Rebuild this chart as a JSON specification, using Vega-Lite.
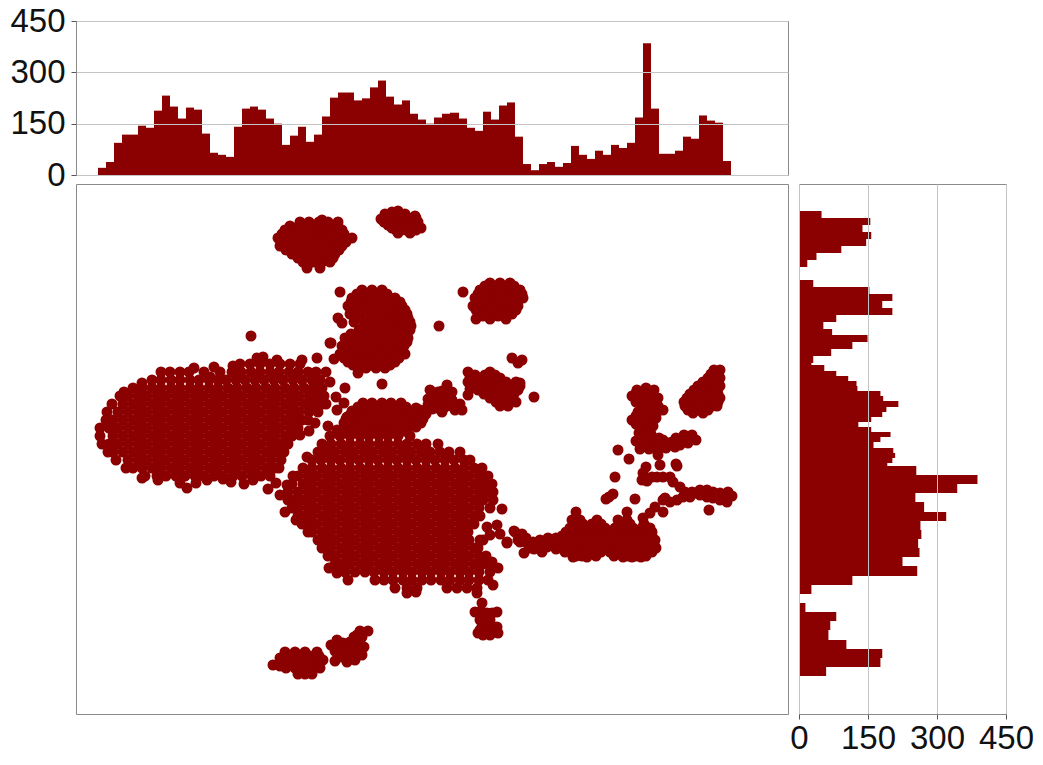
{"$schema":"https://vega.github.io/schema/vega-lite/v6.json","background":"white","padding":{"left":9,"top":4,"right":5,"bottom":5},"bounds":"flush","spacing":9,"config":{"view":{"stroke":"#8a8a8a","strokeWidth":1},"font":"Liberation Sans","axis":{"labelFont":"Liberation Sans","labelFontSize":33,"labelColor":"#111111","title":null,"domainColor":"#8a8a8a","tickColor":"#555555","tickSize":5,"gridColor":"#c4c4c4","labelOverlap":false,"labelFlush":false,"labelPadding":3}},
"datasets":{"top":[{"a":22,"b":30,"n":21},{"a":30,"b":38,"n":38},{"a":38,"b":46,"n":94},{"a":46,"b":54,"n":118},{"a":54,"b":62,"n":118},{"a":62,"b":70,"n":144},{"a":70,"b":78,"n":138},{"a":78,"b":86,"n":188},{"a":86,"b":94,"n":232},{"a":94,"b":102,"n":200},{"a":102,"b":110,"n":165},{"a":110,"b":118,"n":197},{"a":118,"b":126,"n":191},{"a":126,"b":134,"n":121},{"a":134,"b":142,"n":65},{"a":142,"b":150,"n":59},{"a":150,"b":158,"n":53},{"a":158,"b":166,"n":141},{"a":166,"b":174,"n":194},{"a":174,"b":182,"n":200},{"a":182,"b":190,"n":191},{"a":190,"b":198,"n":165},{"a":198,"b":206,"n":150},{"a":206,"b":214,"n":88},{"a":214,"b":222,"n":115},{"a":222,"b":230,"n":141},{"a":230,"b":238,"n":97},{"a":238,"b":246,"n":118},{"a":246,"b":254,"n":171},{"a":254,"b":262,"n":226},{"a":262,"b":270,"n":241},{"a":270,"b":278,"n":241},{"a":278,"b":286,"n":218},{"a":286,"b":294,"n":224},{"a":294,"b":302,"n":256},{"a":302,"b":310,"n":276},{"a":310,"b":318,"n":229},{"a":318,"b":326,"n":206},{"a":326,"b":334,"n":218},{"a":334,"b":342,"n":179},{"a":342,"b":350,"n":162},{"a":350,"b":358,"n":150},{"a":358,"b":366,"n":168},{"a":366,"b":374,"n":179},{"a":374,"b":383,"n":182},{"a":383,"b":391,"n":165},{"a":391,"b":399,"n":138},{"a":399,"b":407,"n":129},{"a":407,"b":415,"n":185},{"a":415,"b":423,"n":162},{"a":423,"b":431,"n":203},{"a":431,"b":439,"n":212},{"a":439,"b":447,"n":112},{"a":447,"b":455,"n":32},{"a":455,"b":463,"n":14},{"a":463,"b":471,"n":32},{"a":471,"b":479,"n":38},{"a":479,"b":487,"n":24},{"a":487,"b":495,"n":35},{"a":495,"b":503,"n":85},{"a":503,"b":511,"n":59},{"a":511,"b":519,"n":47},{"a":519,"b":527,"n":71},{"a":527,"b":535,"n":59},{"a":535,"b":543,"n":88},{"a":543,"b":551,"n":79},{"a":551,"b":559,"n":94},{"a":559,"b":567,"n":168},{"a":567,"b":575,"n":385},{"a":575,"b":583,"n":194},{"a":583,"b":591,"n":62},{"a":591,"b":599,"n":62},{"a":599,"b":607,"n":71},{"a":607,"b":615,"n":112},{"a":615,"b":623,"n":106},{"a":623,"b":631,"n":174},{"a":631,"b":639,"n":159},{"a":639,"b":647,"n":153},{"a":647,"b":655,"n":41}],
"side":[{"a":503,"b":496,"n":49},{"a":496,"b":489,"n":155},{"a":489,"b":482,"n":138},{"a":482,"b":475,"n":157},{"a":475,"b":468,"n":146},{"a":468,"b":461,"n":92},{"a":461,"b":454,"n":38},{"a":454,"b":447,"n":18},{"a":441,"b":434,"n":2},{"a":434,"b":427,"n":31},{"a":427,"b":420,"n":153},{"a":420,"b":413,"n":203},{"a":413,"b":406,"n":181},{"a":406,"b":399,"n":203},{"a":399,"b":392,"n":81},{"a":392,"b":385,"n":53},{"a":385,"b":379,"n":72},{"a":379,"b":372,"n":149},{"a":372,"b":365,"n":116},{"a":365,"b":358,"n":70},{"a":358,"b":351,"n":31},{"a":351,"b":349,"n":27},{"a":349,"b":343,"n":55},{"a":343,"b":338,"n":81},{"a":338,"b":333,"n":107},{"a":333,"b":328,"n":125},{"a":328,"b":323,"n":127},{"a":323,"b":318,"n":177},{"a":318,"b":313,"n":183},{"a":313,"b":307,"n":216},{"a":307,"b":302,"n":190},{"a":302,"b":297,"n":181},{"a":297,"b":292,"n":157},{"a":292,"b":287,"n":129},{"a":287,"b":282,"n":157},{"a":282,"b":277,"n":199},{"a":277,"b":272,"n":177},{"a":272,"b":266,"n":162},{"a":266,"b":261,"n":205},{"a":261,"b":256,"n":209},{"a":256,"b":251,"n":203},{"a":251,"b":248,"n":192},{"a":248,"b":239,"n":255},{"a":239,"b":230,"n":388},{"a":230,"b":221,"n":344},{"a":221,"b":212,"n":253},{"a":212,"b":202,"n":272},{"a":202,"b":193,"n":320},{"a":193,"b":184,"n":264},{"a":184,"b":175,"n":266},{"a":175,"b":166,"n":259},{"a":166,"b":157,"n":262},{"a":157,"b":148,"n":225},{"a":148,"b":138,"n":257},{"a":138,"b":129,"n":116},{"a":129,"b":120,"n":27},{"a":111,"b":102,"n":14},{"a":102,"b":93,"n":81},{"a":93,"b":84,"n":68},{"a":84,"b":74,"n":64},{"a":74,"b":65,"n":103},{"a":65,"b":56,"n":181},{"a":56,"b":47,"n":177},{"a":47,"b":38,"n":59}],
"pts":[{"x":164,"y":350},{"x":174,"y":350},{"x":184,"y":350},{"x":194,"y":350},{"x":204,"y":350},{"x":214,"y":350},{"x":224,"y":350},{"x":157,"y":348},{"x":181,"y":356},{"x":187,"y":357},{"x":201,"y":354},{"x":226,"y":354},{"x":241,"y":356},{"x":258,"y":355},{"x":254,"y":371},{"x":118,"y":346},{"x":128,"y":342},{"x":138,"y":347},{"x":144,"y":342},{"x":134,"y":337},{"x":250,"y":342},{"x":254,"y":332},{"x":260,"y":317},{"x":269,"y":326},{"x":268,"y":311},{"x":261,"y":304},{"x":271,"y":297},{"x":252,"y":288},{"x":261,"y":284},{"x":274,"y":286},{"x":282,"y":341},{"x":66,"y":331},{"x":48,"y":322},
{"x":85,"y":342},{"x":94,"y":342},{"x":104,"y":342},{"x":113,"y":342},{"x":156,"y":342},{"x":165,"y":342},{"x":175,"y":342},{"x":184,"y":342},{"x":194,"y":342},{"x":203,"y":342},{"x":213,"y":342},{"x":222,"y":342},{"x":232,"y":342},{"x":240,"y":342},
{"x":76,"y":334},{"x":85,"y":334},{"x":95,"y":334},{"x":104,"y":334},{"x":114,"y":334},{"x":123,"y":334},{"x":133,"y":334},{"x":142,"y":334},{"x":150,"y":334},{"x":160,"y":334},{"x":169,"y":334},{"x":179,"y":334},{"x":188,"y":334},{"x":198,"y":334},{"x":207,"y":334},{"x":217,"y":334},{"x":226,"y":334},{"x":236,"y":334},{"x":244,"y":334},
{"x":57,"y":326},{"x":66,"y":326},{"x":76,"y":326},{"x":85,"y":326},{"x":95,"y":326},{"x":104,"y":326},{"x":114,"y":326},{"x":123,"y":326},{"x":133,"y":326},{"x":142,"y":326},{"x":152,"y":326},{"x":161,"y":326},{"x":171,"y":326},{"x":180,"y":326},{"x":190,"y":326},{"x":199,"y":326},{"x":209,"y":326},{"x":218,"y":326},{"x":228,"y":326},{"x":237,"y":326},{"x":246,"y":326},
{"x":44,"y":318},{"x":52,"y":318},{"x":62,"y":318},{"x":71,"y":318},{"x":81,"y":318},{"x":90,"y":318},{"x":100,"y":318},{"x":109,"y":318},{"x":119,"y":318},{"x":128,"y":318},{"x":138,"y":318},{"x":147,"y":318},{"x":157,"y":318},{"x":166,"y":318},{"x":176,"y":318},{"x":185,"y":318},{"x":195,"y":318},{"x":204,"y":318},{"x":214,"y":318},{"x":223,"y":318},{"x":233,"y":318},{"x":242,"y":318},{"x":248,"y":318},
{"x":36,"y":310},{"x":47,"y":310},{"x":57,"y":310},{"x":66,"y":310},{"x":76,"y":310},{"x":85,"y":310},{"x":95,"y":310},{"x":104,"y":310},{"x":114,"y":310},{"x":123,"y":310},{"x":133,"y":310},{"x":142,"y":310},{"x":152,"y":310},{"x":161,"y":310},{"x":171,"y":310},{"x":180,"y":310},{"x":190,"y":310},{"x":199,"y":310},{"x":209,"y":310},{"x":218,"y":310},{"x":228,"y":310},{"x":237,"y":310},{"x":246,"y":310},{"x":250,"y":310},
{"x":31,"y":302},{"x":42,"y":302},{"x":52,"y":302},{"x":62,"y":302},{"x":71,"y":302},{"x":81,"y":302},{"x":90,"y":302},{"x":100,"y":302},{"x":109,"y":302},{"x":119,"y":302},{"x":128,"y":302},{"x":138,"y":302},{"x":147,"y":302},{"x":157,"y":302},{"x":166,"y":302},{"x":176,"y":302},{"x":185,"y":302},{"x":195,"y":302},{"x":204,"y":302},{"x":214,"y":302},{"x":223,"y":302},{"x":233,"y":302},{"x":242,"y":302},
{"x":30,"y":294},{"x":37,"y":294},{"x":47,"y":294},{"x":57,"y":294},{"x":66,"y":294},{"x":76,"y":294},{"x":85,"y":294},{"x":95,"y":294},{"x":104,"y":294},{"x":114,"y":294},{"x":123,"y":294},{"x":133,"y":294},{"x":142,"y":294},{"x":152,"y":294},{"x":161,"y":294},{"x":171,"y":294},{"x":180,"y":294},{"x":190,"y":294},{"x":199,"y":294},{"x":209,"y":294},{"x":218,"y":294},{"x":226,"y":294},{"x":232,"y":294},
{"x":24,"y":286},{"x":33,"y":286},{"x":42,"y":286},{"x":52,"y":286},{"x":62,"y":286},{"x":71,"y":286},{"x":81,"y":286},{"x":90,"y":286},{"x":100,"y":286},{"x":109,"y":286},{"x":119,"y":286},{"x":128,"y":286},{"x":138,"y":286},{"x":147,"y":286},{"x":157,"y":286},{"x":166,"y":286},{"x":176,"y":286},{"x":185,"y":286},{"x":195,"y":286},{"x":204,"y":286},{"x":214,"y":286},{"x":222,"y":286},
{"x":24,"y":278},{"x":37,"y":278},{"x":47,"y":278},{"x":57,"y":278},{"x":66,"y":278},{"x":76,"y":278},{"x":85,"y":278},{"x":95,"y":278},{"x":104,"y":278},{"x":114,"y":278},{"x":123,"y":278},{"x":133,"y":278},{"x":142,"y":278},{"x":152,"y":278},{"x":161,"y":278},{"x":171,"y":278},{"x":180,"y":278},{"x":190,"y":278},{"x":199,"y":278},{"x":209,"y":278},{"x":216,"y":278},
{"x":26,"y":270},{"x":33,"y":270},{"x":42,"y":270},{"x":52,"y":270},{"x":62,"y":270},{"x":71,"y":270},{"x":81,"y":270},{"x":90,"y":270},{"x":100,"y":270},{"x":109,"y":270},{"x":119,"y":270},{"x":128,"y":270},{"x":138,"y":270},{"x":147,"y":270},{"x":157,"y":270},{"x":166,"y":270},{"x":176,"y":270},{"x":185,"y":270},{"x":195,"y":270},{"x":204,"y":270},{"x":212,"y":270},
{"x":32,"y":262},{"x":37,"y":262},{"x":47,"y":262},{"x":57,"y":262},{"x":66,"y":262},{"x":76,"y":262},{"x":85,"y":262},{"x":95,"y":262},{"x":104,"y":262},{"x":114,"y":262},{"x":123,"y":262},{"x":133,"y":262},{"x":142,"y":262},{"x":152,"y":262},{"x":161,"y":262},{"x":171,"y":262},{"x":180,"y":262},{"x":190,"y":262},{"x":199,"y":262},{"x":208,"y":262},
{"x":40,"y":254},{"x":52,"y":254},{"x":62,"y":254},{"x":71,"y":254},{"x":81,"y":254},{"x":90,"y":254},{"x":100,"y":254},{"x":109,"y":254},{"x":119,"y":254},{"x":128,"y":254},{"x":138,"y":254},{"x":147,"y":254},{"x":157,"y":254},{"x":166,"y":254},{"x":176,"y":254},{"x":185,"y":254},{"x":195,"y":254},{"x":205,"y":254},
{"x":50,"y":246},{"x":57,"y":246},{"x":66,"y":246},{"x":76,"y":246},{"x":85,"y":246},{"x":95,"y":246},{"x":104,"y":246},{"x":114,"y":246},{"x":123,"y":246},{"x":133,"y":246},{"x":142,"y":246},{"x":152,"y":246},{"x":161,"y":246},{"x":171,"y":246},{"x":180,"y":246},{"x":190,"y":246},{"x":199,"y":246},{"x":203,"y":246},
{"x":69,"y":238},{"x":81,"y":238},{"x":90,"y":238},{"x":100,"y":238},{"x":109,"y":238},{"x":119,"y":238},{"x":128,"y":238},{"x":138,"y":238},{"x":147,"y":238},{"x":157,"y":238},{"x":166,"y":238},{"x":176,"y":238},{"x":185,"y":238},{"x":194,"y":238},
{"x":104,"y":231},{"x":111,"y":226},{"x":120,"y":231},{"x":131,"y":234},{"x":147,"y":235},{"x":155,"y":232},{"x":82,"y":234},{"x":66,"y":236},{"x":177,"y":234},{"x":168,"y":230},{"x":192,"y":225},{"x":200,"y":231},{"x":204,"y":219},{"x":209,"y":202},{"x":211,"y":229},{"x":217,"y":238},{"x":233,"y":283},{"x":239,"y":291},{"x":224,"y":279},{"x":231,"y":257},
{"x":254,"y":278},{"x":264,"y":278},{"x":274,"y":278},{"x":284,"y":278},{"x":293,"y":278},{"x":303,"y":278},{"x":312,"y":278},{"x":322,"y":278},{"x":334,"y":278},
{"x":246,"y":270},{"x":255,"y":270},{"x":265,"y":270},{"x":274,"y":270},{"x":284,"y":270},{"x":293,"y":270},{"x":303,"y":270},{"x":312,"y":270},{"x":322,"y":270},{"x":331,"y":270},{"x":341,"y":270},{"x":350,"y":270},{"x":362,"y":270},
{"x":242,"y":262},{"x":250,"y":262},{"x":259,"y":262},{"x":269,"y":262},{"x":278,"y":262},{"x":288,"y":262},{"x":297,"y":262},{"x":307,"y":262},{"x":316,"y":262},{"x":326,"y":262},{"x":335,"y":262},{"x":345,"y":262},{"x":354,"y":262},{"x":364,"y":262},{"x":373,"y":262},{"x":384,"y":262},
{"x":236,"y":254},{"x":245,"y":254},{"x":255,"y":254},{"x":264,"y":254},{"x":274,"y":254},{"x":283,"y":254},{"x":293,"y":254},{"x":302,"y":254},{"x":312,"y":254},{"x":321,"y":254},{"x":331,"y":254},{"x":340,"y":254},{"x":350,"y":254},{"x":359,"y":254},{"x":369,"y":254},{"x":378,"y":254},{"x":388,"y":254},{"x":394,"y":254},
{"x":227,"y":246},{"x":236,"y":246},{"x":246,"y":246},{"x":255,"y":246},{"x":265,"y":246},{"x":274,"y":246},{"x":284,"y":246},{"x":293,"y":246},{"x":303,"y":246},{"x":312,"y":246},{"x":322,"y":246},{"x":331,"y":246},{"x":341,"y":246},{"x":350,"y":246},{"x":360,"y":246},{"x":369,"y":246},{"x":379,"y":246},{"x":388,"y":246},{"x":398,"y":246},{"x":406,"y":246},
{"x":222,"y":238},{"x":232,"y":238},{"x":241,"y":238},{"x":251,"y":238},{"x":260,"y":238},{"x":270,"y":238},{"x":279,"y":238},{"x":289,"y":238},{"x":298,"y":238},{"x":308,"y":238},{"x":317,"y":238},{"x":327,"y":238},{"x":336,"y":238},{"x":346,"y":238},{"x":355,"y":238},{"x":365,"y":238},{"x":374,"y":238},{"x":384,"y":238},{"x":393,"y":238},{"x":403,"y":238},{"x":412,"y":238},
{"x":216,"y":230},{"x":227,"y":230},{"x":236,"y":230},{"x":246,"y":230},{"x":255,"y":230},{"x":265,"y":230},{"x":274,"y":230},{"x":284,"y":230},{"x":293,"y":230},{"x":303,"y":230},{"x":312,"y":230},{"x":322,"y":230},{"x":331,"y":230},{"x":341,"y":230},{"x":350,"y":230},{"x":360,"y":230},{"x":369,"y":230},{"x":379,"y":230},{"x":388,"y":230},{"x":398,"y":230},{"x":407,"y":230},{"x":416,"y":230},
{"x":212,"y":222},{"x":222,"y":222},{"x":232,"y":222},{"x":241,"y":222},{"x":251,"y":222},{"x":260,"y":222},{"x":270,"y":222},{"x":279,"y":222},{"x":289,"y":222},{"x":298,"y":222},{"x":308,"y":222},{"x":317,"y":222},{"x":327,"y":222},{"x":336,"y":222},{"x":346,"y":222},{"x":355,"y":222},{"x":365,"y":222},{"x":374,"y":222},{"x":384,"y":222},{"x":393,"y":222},{"x":403,"y":222},{"x":412,"y":222},{"x":417,"y":222},
{"x":212,"y":214},{"x":218,"y":214},{"x":227,"y":214},{"x":236,"y":214},{"x":246,"y":214},{"x":255,"y":214},{"x":265,"y":214},{"x":274,"y":214},{"x":284,"y":214},{"x":293,"y":214},{"x":303,"y":214},{"x":312,"y":214},{"x":322,"y":214},{"x":331,"y":214},{"x":341,"y":214},{"x":350,"y":214},{"x":360,"y":214},{"x":369,"y":214},{"x":379,"y":214},{"x":388,"y":214},{"x":398,"y":214},{"x":407,"y":214},{"x":417,"y":214},
{"x":216,"y":206},{"x":222,"y":206},{"x":232,"y":206},{"x":241,"y":206},{"x":251,"y":206},{"x":260,"y":206},{"x":270,"y":206},{"x":279,"y":206},{"x":289,"y":206},{"x":298,"y":206},{"x":308,"y":206},{"x":317,"y":206},{"x":327,"y":206},{"x":336,"y":206},{"x":346,"y":206},{"x":355,"y":206},{"x":365,"y":206},{"x":374,"y":206},{"x":384,"y":206},{"x":393,"y":206},{"x":403,"y":206},{"x":414,"y":206},
{"x":222,"y":198},{"x":227,"y":198},{"x":236,"y":198},{"x":246,"y":198},{"x":255,"y":198},{"x":265,"y":198},{"x":274,"y":198},{"x":284,"y":198},{"x":293,"y":198},{"x":303,"y":198},{"x":312,"y":198},{"x":322,"y":198},{"x":331,"y":198},{"x":341,"y":198},{"x":350,"y":198},{"x":360,"y":198},{"x":369,"y":198},{"x":379,"y":198},{"x":388,"y":198},{"x":398,"y":198},{"x":404,"y":198},
{"x":226,"y":190},{"x":232,"y":190},{"x":241,"y":190},{"x":251,"y":190},{"x":260,"y":190},{"x":270,"y":190},{"x":279,"y":190},{"x":289,"y":190},{"x":298,"y":190},{"x":308,"y":190},{"x":317,"y":190},{"x":327,"y":190},{"x":336,"y":190},{"x":346,"y":190},{"x":355,"y":190},{"x":365,"y":190},{"x":374,"y":190},{"x":384,"y":190},{"x":393,"y":190},{"x":398,"y":190},
{"x":232,"y":182},{"x":236,"y":182},{"x":246,"y":182},{"x":255,"y":182},{"x":265,"y":182},{"x":274,"y":182},{"x":284,"y":182},{"x":293,"y":182},{"x":303,"y":182},{"x":312,"y":182},{"x":322,"y":182},{"x":331,"y":182},{"x":341,"y":182},{"x":350,"y":182},{"x":360,"y":182},{"x":369,"y":182},{"x":379,"y":182},{"x":388,"y":182},{"x":392,"y":182},
{"x":242,"y":174},{"x":251,"y":174},{"x":260,"y":174},{"x":270,"y":174},{"x":279,"y":174},{"x":289,"y":174},{"x":298,"y":174},{"x":308,"y":174},{"x":317,"y":174},{"x":327,"y":174},{"x":336,"y":174},{"x":346,"y":174},{"x":355,"y":174},{"x":365,"y":174},{"x":374,"y":174},{"x":384,"y":174},{"x":393,"y":174},{"x":404,"y":174},
{"x":246,"y":166},{"x":255,"y":166},{"x":265,"y":166},{"x":274,"y":166},{"x":284,"y":166},{"x":293,"y":166},{"x":303,"y":166},{"x":312,"y":166},{"x":322,"y":166},{"x":331,"y":166},{"x":341,"y":166},{"x":350,"y":166},{"x":360,"y":166},{"x":369,"y":166},{"x":379,"y":166},{"x":388,"y":166},{"x":398,"y":166},{"x":402,"y":166},
{"x":252,"y":158},{"x":260,"y":158},{"x":270,"y":158},{"x":279,"y":158},{"x":289,"y":158},{"x":298,"y":158},{"x":308,"y":158},{"x":317,"y":158},{"x":327,"y":158},{"x":336,"y":158},{"x":346,"y":158},{"x":355,"y":158},{"x":365,"y":158},{"x":374,"y":158},{"x":384,"y":158},{"x":393,"y":158},{"x":403,"y":158},{"x":410,"y":158},
{"x":259,"y":150},{"x":265,"y":150},{"x":274,"y":150},{"x":284,"y":150},{"x":293,"y":150},{"x":303,"y":150},{"x":312,"y":150},{"x":322,"y":150},{"x":331,"y":150},{"x":341,"y":150},{"x":350,"y":150},{"x":360,"y":150},{"x":369,"y":150},{"x":379,"y":150},{"x":388,"y":150},{"x":398,"y":150},{"x":407,"y":150},{"x":414,"y":150},
{"x":269,"y":142},{"x":279,"y":142},{"x":289,"y":142},{"x":298,"y":142},{"x":308,"y":142},{"x":317,"y":142},{"x":327,"y":142},{"x":336,"y":142},{"x":346,"y":142},{"x":355,"y":142},{"x":365,"y":142},{"x":374,"y":142},{"x":384,"y":142},{"x":393,"y":142},{"x":403,"y":142},{"x":414,"y":142},
{"x":272,"y":134},{"x":299,"y":134},{"x":308,"y":134},{"x":317,"y":134},{"x":327,"y":134},{"x":336,"y":134},{"x":346,"y":134},{"x":355,"y":134},{"x":365,"y":134},{"x":374,"y":134},{"x":384,"y":134},{"x":393,"y":134},{"x":403,"y":134},{"x":412,"y":134},
{"x":319,"y":126},{"x":331,"y":126},{"x":341,"y":126},{"x":371,"y":126},{"x":381,"y":126},{"x":391,"y":126},{"x":401,"y":126},{"x":331,"y":121},{"x":340,"y":122},{"x":401,"y":121},{"x":253,"y":146},{"x":261,"y":141},{"x":220,"y":194},
{"x":426,"y":205},{"x":411,"y":187},{"x":421,"y":189},{"x":414,"y":179},{"x":407,"y":174},{"x":424,"y":180},{"x":431,"y":172},{"x":439,"y":182},{"x":442,"y":174},{"x":416,"y":152},{"x":422,"y":146},{"x":417,"y":129},
{"x":287,"y":311},{"x":296,"y":311},{"x":306,"y":311},{"x":315,"y":311},{"x":325,"y":311},{"x":276,"y":303},{"x":285,"y":303},{"x":295,"y":303},{"x":304,"y":303},{"x":314,"y":303},{"x":323,"y":303},{"x":333,"y":303},{"x":345,"y":303},{"x":270,"y":295},{"x":280,"y":295},{"x":289,"y":295},{"x":299,"y":295},{"x":308,"y":295},{"x":318,"y":295},{"x":328,"y":295},{"x":337,"y":295},{"x":347,"y":295},{"x":272,"y":287},{"x":282,"y":287},{"x":292,"y":287},{"x":302,"y":287},{"x":312,"y":287},{"x":322,"y":287},{"x":332,"y":287},{"x":340,"y":287},
{"x":282,"y":307},{"x":291,"y":307},{"x":301,"y":307},{"x":310,"y":307},{"x":320,"y":307},{"x":330,"y":307},{"x":274,"y":299},{"x":284,"y":299},{"x":294,"y":299},{"x":304,"y":299},{"x":313,"y":299},{"x":323,"y":299},{"x":333,"y":299},{"x":342,"y":299},{"x":268,"y":291},{"x":277,"y":291},{"x":287,"y":291},{"x":297,"y":291},{"x":307,"y":291},{"x":317,"y":291},{"x":327,"y":291},{"x":337,"y":291},{"x":345,"y":291},{"x":268,"y":283},{"x":278,"y":283},{"x":288,"y":283},{"x":298,"y":283},{"x":308,"y":283},{"x":318,"y":283},{"x":328,"y":283},
{"x":354,"y":324},{"x":362,"y":322},{"x":371,"y":329},{"x":376,"y":322},{"x":368,"y":316},{"x":360,"y":314},{"x":352,"y":309},{"x":376,"y":314},{"x":384,"y":310},{"x":369,"y":307},{"x":360,"y":306},{"x":344,"y":304},{"x":334,"y":302},{"x":379,"y":304},{"x":386,"y":304},{"x":306,"y":330},{"x":358,"y":318},{"x":366,"y":323},{"x":372,"y":320},{"x":370,"y":312},{"x":378,"y":309},{"x":364,"y":310},{"x":352,"y":315},{"x":356,"y":305},{"x":340,"y":306},{"x":350,"y":300},{"x":340,"y":300},{"x":366,"y":302},{"x":376,"y":308},
{"x":286,"y":424},{"x":296,"y":424},{"x":306,"y":424},{"x":276,"y":416},{"x":285,"y":416},{"x":295,"y":416},{"x":304,"y":416},{"x":314,"y":416},{"x":319,"y":416},{"x":272,"y":408},{"x":281,"y":408},{"x":290,"y":408},{"x":300,"y":408},{"x":309,"y":408},{"x":319,"y":408},{"x":326,"y":408},{"x":274,"y":400},{"x":285,"y":400},{"x":295,"y":400},{"x":304,"y":400},{"x":314,"y":400},{"x":323,"y":400},{"x":331,"y":400},{"x":278,"y":392},{"x":290,"y":392},{"x":300,"y":392},{"x":309,"y":392},{"x":319,"y":392},{"x":328,"y":392},{"x":334,"y":392},{"x":283,"y":384},{"x":293,"y":384},{"x":303,"y":384},{"x":312,"y":384},{"x":322,"y":384},{"x":331,"y":384},{"x":334,"y":384},{"x":269,"y":376},{"x":278,"y":376},{"x":288,"y":376},{"x":297,"y":376},{"x":307,"y":376},{"x":316,"y":376},{"x":326,"y":376},{"x":332,"y":376},{"x":266,"y":368},{"x":274,"y":368},{"x":283,"y":368},{"x":293,"y":368},{"x":302,"y":368},{"x":312,"y":368},{"x":321,"y":368},{"x":328,"y":368},{"x":264,"y":360},{"x":272,"y":360},{"x":282,"y":360},{"x":291,"y":360},{"x":301,"y":360},{"x":310,"y":360},{"x":320,"y":360},{"x":329,"y":360},{"x":272,"y":352},{"x":282,"y":352},{"x":291,"y":352},{"x":301,"y":352},{"x":310,"y":352},{"x":319,"y":352},{"x":282,"y":346},{"x":290,"y":346},{"x":300,"y":346},{"x":309,"y":346},
{"x":281,"y":420},{"x":291,"y":420},{"x":301,"y":420},{"x":311,"y":420},{"x":275,"y":412},{"x":280,"y":412},{"x":290,"y":412},{"x":300,"y":412},{"x":309,"y":412},{"x":319,"y":412},{"x":324,"y":412},{"x":276,"y":404},{"x":286,"y":404},{"x":295,"y":404},{"x":305,"y":404},{"x":314,"y":404},{"x":323,"y":404},{"x":329,"y":404},{"x":281,"y":396},{"x":295,"y":396},{"x":305,"y":396},{"x":314,"y":396},{"x":324,"y":396},{"x":332,"y":396},{"x":288,"y":388},{"x":298,"y":388},{"x":308,"y":388},{"x":317,"y":388},{"x":327,"y":388},{"x":335,"y":388},{"x":275,"y":380},{"x":284,"y":380},{"x":293,"y":380},{"x":302,"y":380},{"x":312,"y":380},{"x":321,"y":380},{"x":330,"y":380},{"x":270,"y":372},{"x":279,"y":372},{"x":288,"y":372},{"x":298,"y":372},{"x":307,"y":372},{"x":316,"y":372},{"x":325,"y":372},{"x":331,"y":372},{"x":268,"y":364},{"x":278,"y":364},{"x":287,"y":364},{"x":296,"y":364},{"x":306,"y":364},{"x":315,"y":364},{"x":325,"y":364},{"x":268,"y":356},{"x":277,"y":356},{"x":286,"y":356},{"x":296,"y":356},{"x":305,"y":356},{"x":315,"y":356},{"x":323,"y":356},{"x":277,"y":349},{"x":287,"y":349},{"x":296,"y":349},{"x":305,"y":349},{"x":314,"y":349},
{"x":264,"y":422},{"x":262,"y":396},{"x":266,"y":391},{"x":255,"y":371},{"x":363,"y":388},{"x":175,"y":378},
{"x":224,"y":492},{"x":233,"y":492},{"x":243,"y":492},{"x":252,"y":492},{"x":262,"y":492},{"x":246,"y":494},{"x":209,"y":484},{"x":218,"y":484},{"x":228,"y":484},{"x":237,"y":484},{"x":247,"y":484},{"x":256,"y":484},{"x":266,"y":484},{"x":202,"y":476},{"x":211,"y":476},{"x":221,"y":476},{"x":230,"y":476},{"x":240,"y":476},{"x":249,"y":476},{"x":259,"y":476},{"x":270,"y":476},{"x":276,"y":476},{"x":204,"y":468},{"x":214,"y":468},{"x":223,"y":468},{"x":233,"y":468},{"x":242,"y":468},{"x":252,"y":468},{"x":262,"y":468},{"x":266,"y":468},{"x":216,"y":460},{"x":226,"y":460},{"x":235,"y":460},{"x":245,"y":460},{"x":254,"y":460},{"x":259,"y":460},{"x":227,"y":452},{"x":237,"y":452},{"x":246,"y":452},{"x":254,"y":452},{"x":231,"y":446},{"x":244,"y":446},
{"x":214,"y":488},{"x":223,"y":488},{"x":233,"y":488},{"x":243,"y":488},{"x":252,"y":488},{"x":262,"y":488},{"x":206,"y":480},{"x":214,"y":480},{"x":223,"y":480},{"x":233,"y":480},{"x":243,"y":480},{"x":252,"y":480},{"x":262,"y":480},{"x":268,"y":480},{"x":207,"y":472},{"x":216,"y":472},{"x":226,"y":472},{"x":235,"y":472},{"x":245,"y":472},{"x":255,"y":472},{"x":264,"y":472},{"x":270,"y":472},{"x":210,"y":464},{"x":220,"y":464},{"x":229,"y":464},{"x":238,"y":464},{"x":248,"y":464},{"x":258,"y":464},{"x":263,"y":464},{"x":222,"y":456},{"x":231,"y":456},{"x":241,"y":456},{"x":250,"y":456},{"x":257,"y":456},
{"x":309,"y":500},{"x":319,"y":500},{"x":329,"y":500},{"x":305,"y":495},{"x":308,"y":492},{"x":318,"y":492},{"x":328,"y":492},{"x":338,"y":492},{"x":342,"y":492},{"x":316,"y":486},{"x":326,"y":486},{"x":335,"y":486},{"x":345,"y":486},{"x":322,"y":481},{"x":334,"y":481},{"x":339,"y":498},{"x":316,"y":502},{"x":312,"y":496},{"x":322,"y":496},{"x":332,"y":496},{"x":340,"y":496},{"x":312,"y":489},{"x":322,"y":489},{"x":332,"y":489},{"x":342,"y":489},{"x":320,"y":484},{"x":330,"y":484},{"x":340,"y":484},{"x":322,"y":503},
{"x":414,"y":431},{"x":424,"y":431},{"x":434,"y":431},{"x":404,"y":424},{"x":414,"y":424},{"x":424,"y":424},{"x":434,"y":424},{"x":444,"y":424},{"x":399,"y":416},{"x":409,"y":416},{"x":419,"y":416},{"x":429,"y":416},{"x":439,"y":416},{"x":447,"y":416},{"x":397,"y":408},{"x":407,"y":408},{"x":417,"y":408},{"x":427,"y":408},{"x":437,"y":408},{"x":442,"y":408},{"x":402,"y":400},{"x":412,"y":400},{"x":422,"y":400},{"x":432,"y":400},{"x":436,"y":400},{"x":400,"y":395},{"x":414,"y":395},{"x":430,"y":395},{"x":387,"y":422},
{"x":409,"y":428},{"x":419,"y":428},{"x":429,"y":428},{"x":438,"y":428},{"x":402,"y":420},{"x":409,"y":420},{"x":419,"y":420},{"x":429,"y":420},{"x":439,"y":420},{"x":446,"y":420},{"x":402,"y":412},{"x":412,"y":412},{"x":422,"y":412},{"x":432,"y":412},{"x":441,"y":412},{"x":400,"y":404},{"x":407,"y":404},{"x":417,"y":404},{"x":427,"y":404},{"x":437,"y":404},{"x":440,"y":404},{"x":407,"y":398},{"x":422,"y":398},
{"x":392,"y":342},{"x":414,"y":342},{"x":394,"y":336},{"x":404,"y":336},{"x":414,"y":336},{"x":424,"y":336},{"x":396,"y":328},{"x":406,"y":328},{"x":416,"y":328},{"x":426,"y":328},{"x":436,"y":328},{"x":444,"y":328},{"x":408,"y":320},{"x":418,"y":320},{"x":428,"y":320},{"x":438,"y":320},{"x":392,"y":319},{"x":420,"y":312},{"x":430,"y":312},{"x":440,"y":312},{"x":424,"y":308},{"x":432,"y":308},{"x":436,"y":356},{"x":446,"y":354},{"x":442,"y":351},{"x":458,"y":317},{"x":444,"y":331},
{"x":399,"y":339},{"x":409,"y":339},{"x":419,"y":339},{"x":392,"y":332},{"x":400,"y":332},{"x":410,"y":332},{"x":420,"y":332},{"x":430,"y":332},{"x":440,"y":332},{"x":402,"y":324},{"x":412,"y":324},{"x":422,"y":324},{"x":432,"y":324},{"x":442,"y":324},{"x":414,"y":316},{"x":424,"y":316},{"x":434,"y":316},{"x":394,"y":325},
{"x":638,"y":344},{"x":644,"y":344},{"x":632,"y":336},{"x":640,"y":336},{"x":644,"y":336},{"x":622,"y":328},{"x":630,"y":328},{"x":638,"y":328},{"x":644,"y":328},{"x":614,"y":320},{"x":624,"y":320},{"x":634,"y":320},{"x":642,"y":320},{"x":608,"y":312},{"x":617,"y":312},{"x":626,"y":312},{"x":635,"y":312},{"x":642,"y":312},{"x":612,"y":304},{"x":622,"y":304},{"x":632,"y":304},{"x":617,"y":301},{"x":627,"y":301},
{"x":635,"y":340},{"x":641,"y":340},{"x":627,"y":332},{"x":635,"y":332},{"x":642,"y":332},{"x":618,"y":324},{"x":626,"y":324},{"x":634,"y":324},{"x":641,"y":324},{"x":611,"y":316},{"x":620,"y":316},{"x":629,"y":316},{"x":638,"y":316},{"x":644,"y":316},{"x":609,"y":308},{"x":618,"y":308},{"x":627,"y":308},{"x":636,"y":308},{"x":641,"y":308},
{"x":561,"y":324},{"x":570,"y":326},{"x":578,"y":324},{"x":556,"y":318},{"x":565,"y":318},{"x":574,"y":318},{"x":582,"y":316},{"x":564,"y":310},{"x":573,"y":310},{"x":582,"y":308},{"x":587,"y":304},{"x":562,"y":302},{"x":571,"y":302},{"x":580,"y":300},{"x":556,"y":294},{"x":565,"y":294},{"x":574,"y":294},{"x":580,"y":296},{"x":564,"y":286},{"x":573,"y":286},{"x":566,"y":278},{"x":575,"y":280},{"x":583,"y":276},{"x":560,"y":273},{"x":569,"y":271},{"x":578,"y":271},{"x":587,"y":274},{"x":564,"y":265},{"x":573,"y":265},{"x":582,"y":266},{"x":582,"y":259},{"x":592,"y":271},{"x":600,"y":276},{"x":608,"y":279},{"x":616,"y":279},{"x":620,"y":274},{"x":604,"y":269},{"x":612,"y":271},{"x":599,"y":267},
{"x":560,"y":321},{"x":568,"y":320},{"x":576,"y":321},{"x":560,"y":312},{"x":569,"y":314},{"x":578,"y":313},{"x":566,"y":306},{"x":575,"y":306},{"x":560,"y":298},{"x":568,"y":298},{"x":577,"y":299},{"x":560,"y":290},{"x":569,"y":290},{"x":577,"y":288},{"x":570,"y":282},{"x":563,"y":281},{"x":564,"y":270},{"x":574,"y":275},{"x":590,"y":266},{"x":596,"y":272},{"x":606,"y":274},{"x":614,"y":275},{"x":568,"y":268},{"x":578,"y":266},{"x":586,"y":268},
{"x":542,"y":264},{"x":553,"y":255},{"x":539,"y":237},{"x":584,"y":249},{"x":601,"y":248},{"x":600,"y":250},{"x":559,"y":215},{"x":533,"y":217},{"x":537,"y":220},{"x":530,"y":215},
{"x":570,"y":247},{"x":567,"y":241},{"x":566,"y":234},{"x":571,"y":233},{"x":576,"y":237},{"x":581,"y":237},{"x":587,"y":237},{"x":594,"y":237},{"x":597,"y":232},{"x":604,"y":227},{"x":609,"y":222},{"x":607,"y":217},{"x":616,"y":222},{"x":624,"y":224},{"x":631,"y":224},{"x":637,"y":222},{"x":644,"y":221},{"x":652,"y":222},{"x":656,"y":218},{"x":651,"y":212},{"x":644,"y":214},{"x":637,"y":216},{"x":631,"y":217},{"x":624,"y":219},{"x":633,"y":204},{"x":614,"y":217},{"x":601,"y":214},{"x":594,"y":212},{"x":587,"y":214},{"x":589,"y":216},{"x":587,"y":202},{"x":579,"y":207},{"x":574,"y":201},{"x":567,"y":196},{"x":627,"y":221},{"x":634,"y":219},{"x":641,"y":218},{"x":648,"y":217},{"x":612,"y":219},{"x":620,"y":221},
{"x":438,"y":183},{"x":446,"y":180},{"x":431,"y":171},{"x":448,"y":161},{"x":444,"y":172},{"x":451,"y":171},{"x":457,"y":172},{"x":464,"y":174},{"x":472,"y":176},{"x":466,"y":162},{"x":461,"y":167},{"x":471,"y":167},{"x":476,"y":171},{"x":450,"y":176},{"x":458,"y":165},{"x":454,"y":166},{"x":480,"y":165},{"x":480,"y":176},{"x":470,"y":171},{"x":463,"y":170},
{"x":500,"y":202},{"x":551,"y":202},{"x":496,"y":194},{"x":504,"y":194},{"x":521,"y":194},{"x":542,"y":194},{"x":551,"y":194},{"x":494,"y":186},{"x":502,"y":186},{"x":511,"y":186},{"x":520,"y":186},{"x":529,"y":186},{"x":539,"y":186},{"x":548,"y":186},{"x":557,"y":186},{"x":566,"y":186},{"x":574,"y":186},{"x":486,"y":178},{"x":495,"y":178},{"x":504,"y":178},{"x":513,"y":178},{"x":522,"y":178},{"x":531,"y":178},{"x":540,"y":178},{"x":549,"y":178},{"x":558,"y":178},{"x":567,"y":178},{"x":576,"y":178},{"x":482,"y":170},{"x":491,"y":170},{"x":500,"y":170},{"x":509,"y":170},{"x":518,"y":170},{"x":527,"y":170},{"x":536,"y":170},{"x":545,"y":170},{"x":554,"y":170},{"x":563,"y":170},{"x":572,"y":170},{"x":578,"y":170},{"x":489,"y":162},{"x":498,"y":162},{"x":507,"y":162},{"x":516,"y":162},{"x":525,"y":162},{"x":534,"y":162},{"x":543,"y":162},{"x":552,"y":162},{"x":561,"y":162},{"x":570,"y":162},{"x":576,"y":162},{"x":497,"y":157},{"x":511,"y":157},{"x":547,"y":157},{"x":556,"y":157},{"x":565,"y":157},
{"x":490,"y":182},{"x":499,"y":182},{"x":508,"y":182},{"x":517,"y":182},{"x":526,"y":182},{"x":535,"y":182},{"x":544,"y":182},{"x":553,"y":182},{"x":562,"y":182},{"x":571,"y":182},{"x":576,"y":182},{"x":482,"y":174},{"x":490,"y":174},{"x":499,"y":174},{"x":508,"y":174},{"x":517,"y":174},{"x":526,"y":174},{"x":535,"y":174},{"x":544,"y":174},{"x":553,"y":174},{"x":562,"y":174},{"x":571,"y":174},{"x":579,"y":174},{"x":485,"y":166},{"x":494,"y":166},{"x":503,"y":166},{"x":512,"y":166},{"x":521,"y":166},{"x":530,"y":166},{"x":539,"y":166},{"x":548,"y":166},{"x":557,"y":166},{"x":566,"y":166},{"x":574,"y":166},{"x":580,"y":166},{"x":498,"y":190},{"x":507,"y":190},{"x":516,"y":190},{"x":525,"y":190},{"x":545,"y":190},{"x":554,"y":190},{"x":568,"y":190},{"x":500,"y":158},{"x":506,"y":158},{"x":520,"y":158},{"x":538,"y":158},{"x":552,"y":158},{"x":560,"y":158},{"x":570,"y":158},
{"x":406,"y":111},{"x":399,"y":102},{"x":421,"y":102},{"x":411,"y":101},{"x":404,"y":94},{"x":414,"y":94},{"x":421,"y":87},{"x":402,"y":81},{"x":407,"y":79},{"x":414,"y":79},{"x":422,"y":81},{"x":406,"y":87},{"x":414,"y":87},{"x":405,"y":103},{"x":416,"y":101},{"x":409,"y":94},{"x":409,"y":87},{"x":418,"y":87},{"x":404,"y":84},{"x":418,"y":82},{"x":410,"y":81},
{"x":209,"y":62},{"x":219,"y":62},{"x":229,"y":62},{"x":241,"y":62},{"x":206,"y":54},{"x":215,"y":54},{"x":224,"y":54},{"x":233,"y":54},{"x":242,"y":54},{"x":247,"y":54},{"x":210,"y":46},{"x":219,"y":46},{"x":228,"y":46},{"x":237,"y":46},{"x":244,"y":46},{"x":222,"y":40},{"x":229,"y":40},{"x":236,"y":40},{"x":197,"y":49},{"x":204,"y":48},{"x":214,"y":58},{"x":224,"y":58},{"x":234,"y":58},{"x":243,"y":58},{"x":208,"y":50},{"x":214,"y":50},{"x":224,"y":50},{"x":233,"y":50},{"x":242,"y":50},{"x":226,"y":43},{"x":233,"y":43},{"x":204,"y":56},
{"x":292,"y":83},{"x":284,"y":83},{"x":281,"y":79},{"x":286,"y":77},{"x":261,"y":74},{"x":255,"y":69},{"x":267,"y":71},{"x":274,"y":72},{"x":284,"y":71},{"x":288,"y":67},{"x":259,"y":63},{"x":266,"y":64},{"x":272,"y":65},{"x":279,"y":66},{"x":286,"y":59},{"x":279,"y":59},{"x":272,"y":59},{"x":266,"y":57},{"x":259,"y":53},{"x":271,"y":52},{"x":279,"y":54},{"x":278,"y":77},{"x":270,"y":68},{"x":263,"y":68},{"x":276,"y":68},{"x":282,"y":64},{"x":262,"y":58},{"x":268,"y":62},{"x":275,"y":62},{"x":283,"y":62}]},
"vconcat":[
{"width":712,"height":154,"data":{"name":"top"},"mark":{"type":"rect","color":"#8b0000","strokeWidth":0},"encoding":{"x":{"field":"a","type":"quantitative","scale":{"domain":[0,712],"nice":false,"zero":false},"axis":null},"x2":{"field":"b"},"y":{"field":"n","type":"quantitative","scale":{"domain":[0,450],"nice":false},"axis":{"values":[0,150,300,450],"grid":true,"domain":true,"labelPadding":6,"zindex":1}},"y2":{"datum":0}}},
{"bounds":"flush","spacing":11,"hconcat":[
{"width":712,"height":530,"data":{"name":"pts"},"mark":{"type":"point","filled":true,"color":"#8b0000","opacity":1,"size":121},"encoding":{"x":{"field":"x","type":"quantitative","scale":{"domain":[0,712],"nice":false,"zero":false},"axis":null},"y":{"field":"y","type":"quantitative","scale":{"domain":[0,530],"nice":false,"zero":false},"axis":null}}},
{"width":207,"height":530,"data":{"name":"side"},"mark":{"type":"rect","color":"#8b0000","strokeWidth":0},"encoding":{"y":{"field":"a","type":"quantitative","scale":{"domain":[0,530],"nice":false,"zero":false},"axis":null},"y2":{"field":"b"},"x":{"field":"n","type":"quantitative","scale":{"domain":[0,450],"nice":false},"axis":{"values":[0,150,300,450],"grid":true,"domain":true,"orient":"bottom","zindex":1}},"x2":{"datum":0}}}
]}
]}
